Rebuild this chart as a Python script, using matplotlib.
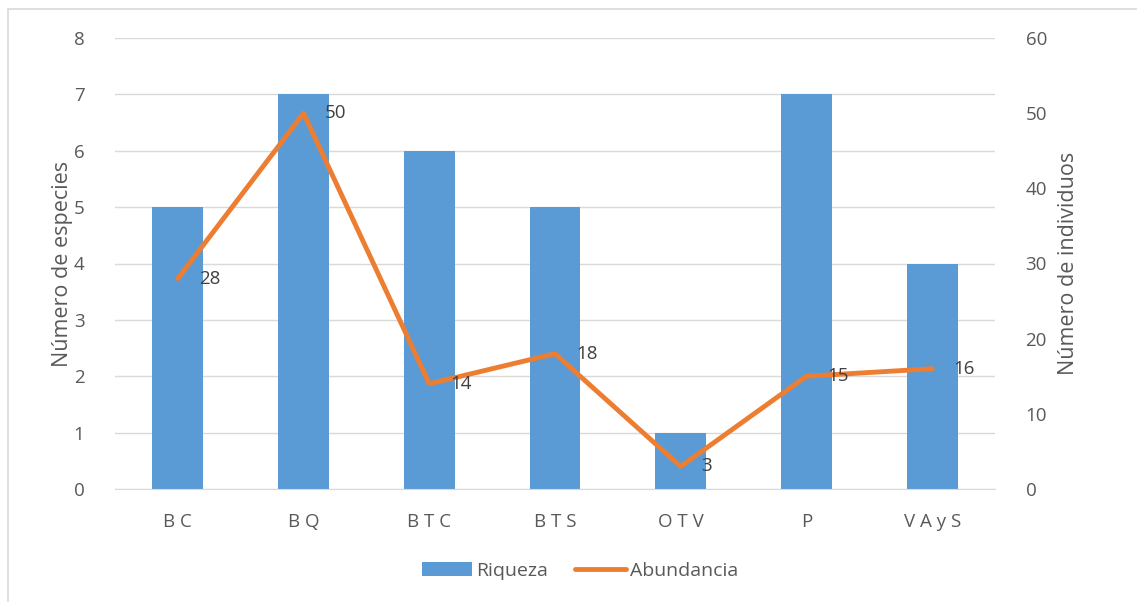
import matplotlib.pyplot as plt
from matplotlib.patches import Rectangle
from matplotlib.lines import Line2D
from matplotlib.patches import Patch

categories = ["B C", "B Q", "B T C", "B T S", "O T V", "P", "V A y S"]
riqueza = [5, 7, 6, 5, 1, 7, 4]
abundancia = [28, 50, 14, 18, 3, 15, 16]

blue = "#5B9BD5"
orange = "#ED7D31"
text_gray = "#595959"
grid_gray = "#D9D9D9"

plt.rcParams['font.family'] = ['Open Sans', 'DejaVu Sans']

fig = plt.figure(figsize=(11.37, 6.02), dpi=100)
fig.patches.append(Rectangle((8 / 1137, -0.1), 1.2, (602 - 9) / 602 + 0.1,
                             transform=fig.transFigure, fill=False,
                             edgecolor="#D9D9D9", linewidth=1.2, zorder=0))

ax = fig.add_axes([115 / 1137, (602 - 489) / 602, 880 / 1137, 451 / 602])
x = list(range(len(categories)))
ax.bar(x, riqueza, width=0.405, color=blue, zorder=2)
ax.set_xlim(-0.5, len(categories) - 0.5)
ax.set_ylim(0, 8)
ax.set_yticks(range(0, 9))
ax.grid(axis='y', color=grid_gray, linewidth=1, zorder=0)
ax.set_axisbelow(True)
for s in ["top", "right", "left"]:
    ax.spines[s].set_visible(False)
ax.spines["bottom"].set_color(grid_gray)
ax.tick_params(axis='both', length=0, colors=text_gray, labelsize=13.5)
ax.tick_params(axis='y', pad=22)
ax.tick_params(axis='x', pad=17)
ax.set_xticks(x)
ax.set_xticklabels(categories)
ax.set_ylabel("Número de especies", color=text_gray, fontsize=15.5, labelpad=0.5)

ax2 = ax.twinx()
ax2.plot(x, abundancia, color=orange, linewidth=3.5, solid_capstyle='round', zorder=3)
ax2.set_ylim(0, 60)
ax2.set_yticks(range(0, 61, 10))
for s in ["top", "right", "left", "bottom"]:
    ax2.spines[s].set_visible(False)
ax2.tick_params(axis='y', length=0, colors=text_gray, labelsize=13.5, pad=22)
ax2.set_ylabel("Número de individuos", color=text_gray, fontsize=15.5, labelpad=8)

for xi, v in zip(x, abundancia):
    ax2.annotate(str(v), (xi, v), xytext=(15, 0), textcoords='offset points',
                 ha='left', va='center', color="#404040", fontsize=13.5, zorder=4)

handles = [Patch(facecolor=blue, edgecolor='none'),
           Line2D([0], [0], color=orange, linewidth=3.5, solid_capstyle='round')]
fig.legend(handles, ["Riqueza", "Abundancia"], loc='center',
           bbox_to_anchor=(580 / 1137, (602 - 571) / 602), ncol=2, frameon=False,
           fontsize=14, labelcolor=text_gray, handlelength=2.6, handletextpad=0.2,
           columnspacing=1.4)

fig.savefig("out.png", dpi=100)
